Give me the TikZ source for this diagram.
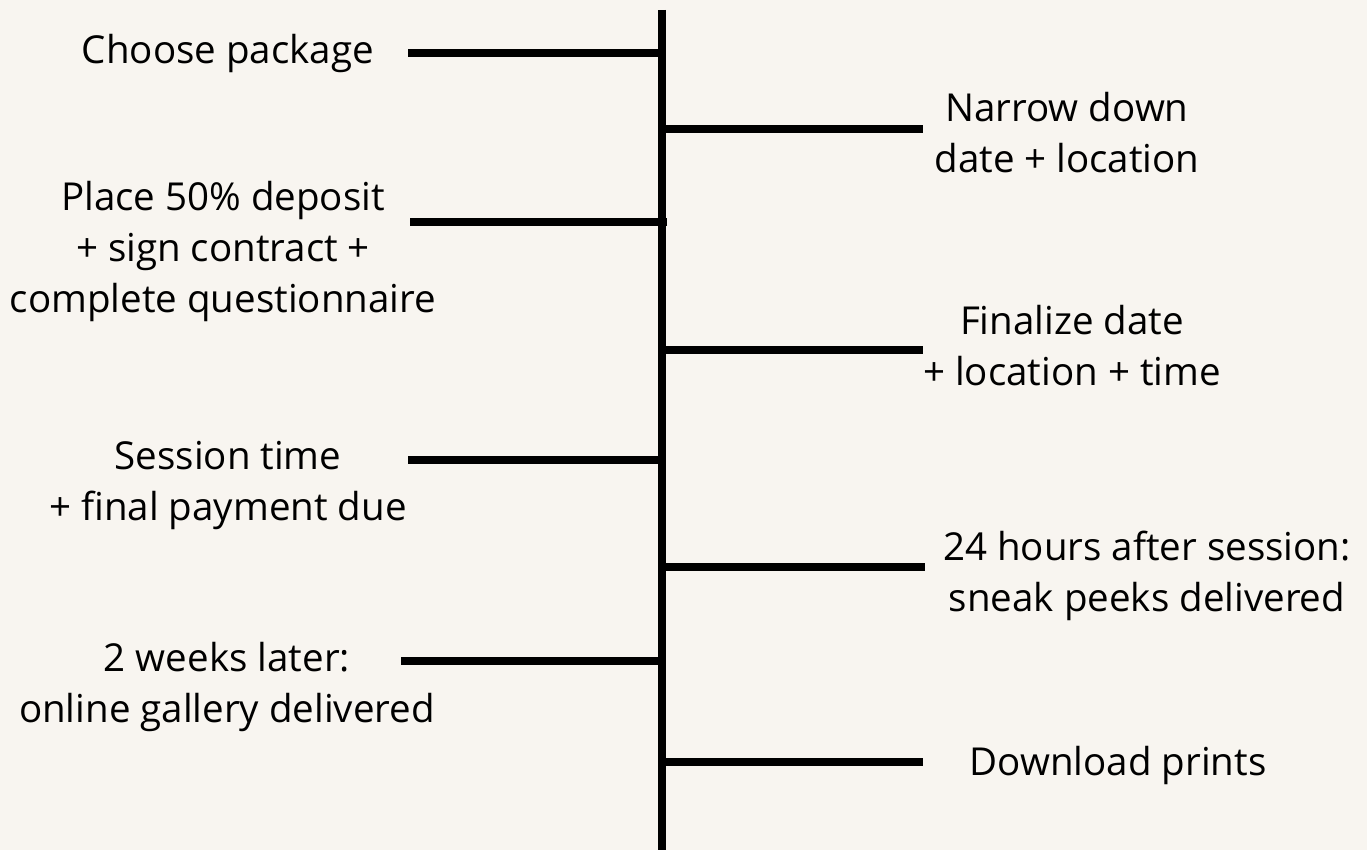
\documentclass[tikz,border=0pt]{standalone}
\usepackage{fontspec}
\setmainfont{Open Sans}
\definecolor{paper}{HTML}{F8F5F0}
\tikzset{
  stage/.style={anchor=base,align=center,font=\fontsize{38.5}{51}\selectfont},
  tick/.style={line width=8pt,black}
}
\begin{document}
\begin{tikzpicture}[x=1pt,y=-1pt]
\fill[paper] (0,0) rectangle (1367,850);
\useasboundingbox (0,0) rectangle (1367,850);
% spine
\coordinate(top) at (662,10);
\coordinate(bot) at (662,850);
\draw[tick] (top) -- (bot);
% ticks on the spine and their free ends
\coordinate(s1) at (662,53);  \coordinate(e1) at (408,53);
\coordinate(s2) at (662,129); \coordinate(e2) at (923,129);
\coordinate(s3) at (667,222); \coordinate(e3) at (410,222);
\coordinate(s4) at (662,350); \coordinate(e4) at (923,350);
\coordinate(s5) at (662,460); \coordinate(e5) at (408,460);
\coordinate(s6) at (662,567); \coordinate(e6) at (925,567);
\coordinate(s7) at (662,661); \coordinate(e7) at (401,661);
\coordinate(s8) at (662,762); \coordinate(e8) at (923,762);
\path [tick]
  (s1) edge (e1)
  (s2) edge (e2)
  (s3) edge (e3)
  (s4) edge (e4)
  (s5) edge (e5)
  (s6) edge (e6)
  (s7) edge (e7)
  (s8) edge (e8);
% stages (base = last line)
\node(1) at (228,64)[stage]  {Choose package};
\node(2) at (1067,173)[stage] {Narrow down\\date + location};
\node(3) at (223,312)[stage] {Place 50\% deposit\\+ sign contract +\\complete questionnaire};
\node(4) at (1072,385)[stage] {Finalize date\\+ location + time};
\node(5) at (228,520)[stage] {Session time\\+ final payment due};
\node(6) at (1147,611)[stage] {24 hours after session:\\sneak peeks delivered};
\node(7) at (227,722)[stage] {2 weeks later:\\online gallery delivered};
\node(8) at (1118,775)[stage] {Download prints};
\end{tikzpicture}
\end{document}
